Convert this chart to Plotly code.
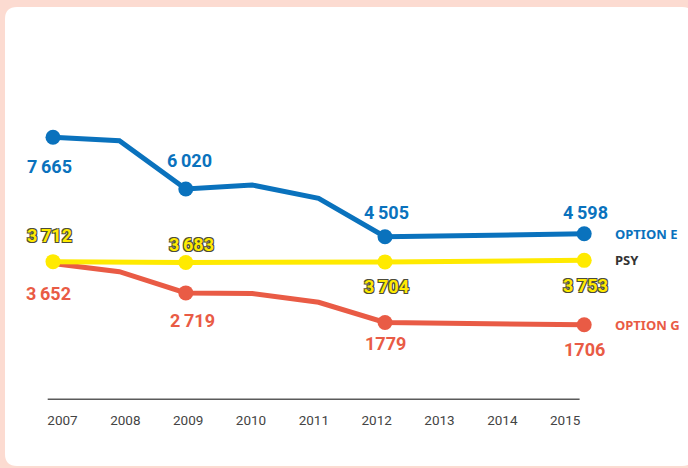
import plotly.graph_objects as go

# ---------------- data ----------------
years = [2007, 2008, 2009, 2010, 2011, 2012, 2013, 2014, 2015]
option_e = [7665, 7557, 6020, 6149, 5726, 4505, None, None, 4598]
option_g = [3652, 3393, 2719, 2700, 2420, 1779, None, None, 1706]
psy = [3712, None, 3683, None, None, 3704, None, None, 3753]

marker_years = [2007, 2009, 2012, 2015]
label_e = ["7\u2009665", "6\u2009020", "4\u2009505", "4\u2009598"]
label_g = ["3\u2009652", "2\u2009719", "1779", "1706"]
label_psy = ["3\u2009712", "3\u2009683", "3\u2009704", "3\u2009753"]
tick_labels = [str(y) for y in years]

series_names = ["OPTION E", "PSY", "OPTION G"]

# ---------------- style ----------------
W, H = 688, 468
ML, MR, MT, MB = 41, 95, 100, 69
PW, PH = W - ML - MR, H - MT - MB

BLUE = "#0a72bd"
YELLOW = "#ffea00"
RED = "#e95b45"
PINK = "#fcdbd1"
GREY_TXT = "#444444"

NUM_FONT = "Roboto, Liberation Sans, sans-serif"
TXT_FONT = "Noto Sans, Open Sans, sans-serif"


def px(x):
    return (x - ML) / PW


def py(y):
    return (H - MB - y) / PH


def val_at(series, yr):
    return series[years.index(yr)]


fig = go.Figure()


def add_series(vals, color, mark_years):
    fig.add_trace(go.Scatter(
        x=years, y=vals, mode="lines", connectgaps=True,
        line=dict(color=color, width=5),
        hoverinfo="skip", showlegend=False))
    fig.add_trace(go.Scatter(
        x=mark_years, y=[val_at(vals, yr) for yr in mark_years], mode="markers",
        marker=dict(color=color, size=15, opacity=1, line=dict(width=0)),
        hoverinfo="skip", showlegend=False))


# red marker at 2007 is hidden behind the yellow one in the original
add_series(option_g, RED, marker_years[1:])
add_series(psy, YELLOW, marker_years)
add_series(option_e, BLUE, marker_years)

# axis that carries the year labels
fig.add_trace(go.Scatter(x=years, y=[None] * len(years), xaxis="x2", mode="markers",
                         hoverinfo="skip", showlegend=False))

annotations = []

outline = "#4b4b3c"
shadow = (f"1px 1px 0 {outline}, -1px -1px 0 {outline}, 1px -1px 0 {outline}, "
          f"-1px 1px 0 {outline}")

shift_e = [-29, 29, 24, 21]
shift_psy = [26, 18, -25, -25]
shift_g = [-30, -28, -21, -25]
xsh = [-4, 4, 1, 1]

for yr, lab, sh, xs in zip(marker_years, label_e, shift_e, xsh):
    annotations.append(dict(x=yr, y=val_at(option_e, yr), text=lab, showarrow=False,
                            yshift=sh, xshift=xs,
                            font=dict(family=NUM_FONT, size=18, color=BLUE, weight="bold")))
for yr, lab, sh, xs in zip(marker_years, label_psy, shift_psy, xsh):
    annotations.append(dict(x=yr, y=val_at(psy, yr), text=lab, showarrow=False,
                            yshift=sh, xshift=xs + 2 if yr == 2009 else xs,
                            font=dict(family=NUM_FONT, size=18, color=YELLOW, weight="bold",
                                      shadow=shadow)))
for yr, lab, sh, xs in zip(marker_years, label_g, shift_g, xsh):
    annotations.append(dict(x=yr, y=val_at(option_g, yr), text=lab, showarrow=False,
                            yshift=sh, xshift=xs + 3 if yr == 2009 else xs - 1,
                            font=dict(family=NUM_FONT, size=18, color=RED, weight="bold")))

# series names at right end
for name, series, col in zip(series_names, [option_e, psy, option_g], [BLUE, "#333333", RED]):
    annotations.append(dict(x=2015, y=val_at(series, 2015), text=name, showarrow=False,
                            xanchor="left", xshift=29, yshift=0,
                            font=dict(family=TXT_FONT, size=13, color=col, weight="bold")))

# card background (rounded white panel on pink)
r = 12
x0, y0, x1, y1 = 5, 7, 694, 466
path = (f"M {px(x0)},{py(y0 + r)} Q {px(x0)},{py(y0)} {px(x0 + r)},{py(y0)} "
        f"L {px(x1 - r)},{py(y0)} Q {px(x1)},{py(y0)} {px(x1)},{py(y0 + r)} "
        f"L {px(x1)},{py(y1 - r)} Q {px(x1)},{py(y1)} {px(x1 - r)},{py(y1)} "
        f"L {px(x0 + r)},{py(y1)} Q {px(x0)},{py(y1)} {px(x0)},{py(y1 - r)} Z")

shapes = [
    dict(type="path", path=path, xref="paper", yref="paper", fillcolor="white",
         line=dict(width=0), layer="below"),
    dict(type="line", xref="paper", yref="paper", x0=px(47.7), x1=px(579.6),
         y0=py(399.3), y1=py(399.3), line=dict(color="#5a5a5a", width=1.6)),
]

# data axis geometry: 2007 at 53 px, 66.4 px per year
X0, XSTEP = 53, 66.4
rng1 = [2007 - (X0 - ML) / XSTEP, 2007 + (ML + PW - X0) / XSTEP]

# tick-label axis geometry
t0, t1 = 62.5, 565.2
step = (t1 - t0) / 8
rng2 = [2007 - (t0 - ML) / step, 2015 + (ML + PW - t1) / step]

fig.update_layout(
    width=W, height=H,
    margin=dict(l=ML, r=MR, t=MT, b=MB),
    paper_bgcolor=PINK, plot_bgcolor="rgba(0,0,0,0)",
    shapes=shapes, annotations=annotations,
    xaxis=dict(range=rng1, showgrid=False, zeroline=False,
               showline=False, showticklabels=False, ticks=""),
    xaxis2=dict(overlaying="x", anchor="y", side="bottom", range=rng2,
                tickmode="array", tickvals=years, ticktext=tick_labels,
                showgrid=False, zeroline=False, showline=False, ticks="",
                tickfont=dict(family=NUM_FONT, size=13.5, color=GREY_TXT),
                ticklabelstandoff=11),
    yaxis=dict(range=[-654, 8851], showgrid=False, zeroline=False,
               showline=False, showticklabels=False, ticks=""),
    showlegend=False,
)

fig.write_html("out.html", post_script="document.body.style.margin='0';",
               config={"displayModeBar": False})
